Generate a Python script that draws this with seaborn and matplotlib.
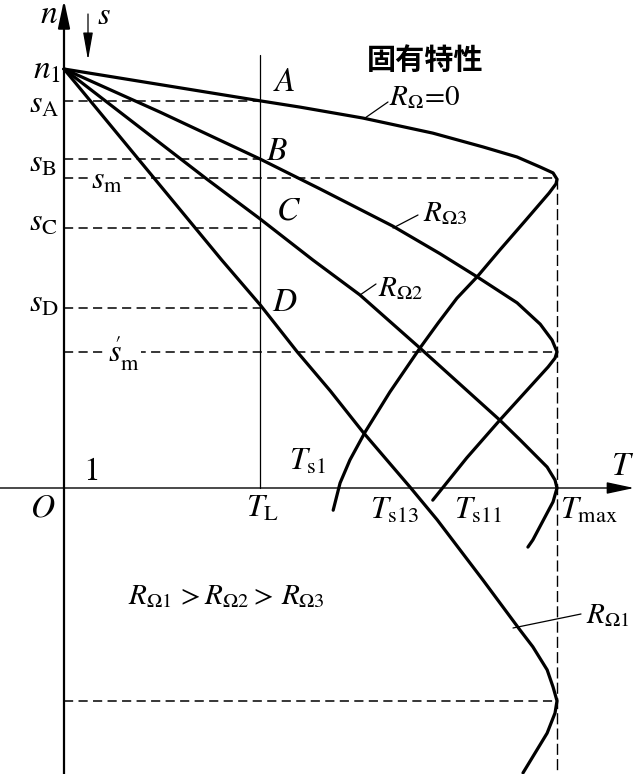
import numpy as np
import pandas as pd
import matplotlib
matplotlib.use("Agg")
import matplotlib.pyplot as plt
import seaborn as sns

# torque T (T_max = 1) and speed n (n1 = 1)
T_NAT = [0.0, 0.398, 0.479, 0.606, 0.748, 0.850, 0.919, 0.966, 0.992, 1.0,
         0.998, 0.984, 0.935, 0.884, 0.838, 0.797, 0.759, 0.722, 0.661, 0.611, 0.580, 0.560, 0.546]
N_NAT = [1.0, 0.924, 0.909, 0.883, 0.847, 0.814, 0.790, 0.766, 0.752, 0.737,
         0.726, 0.704, 0.637, 0.568, 0.504, 0.453, 0.394, 0.334, 0.229, 0.134, 0.067, 0.012, -0.053]

T_R3 = [0.0, 0.195, 0.398, 0.519, 0.667, 0.763, 0.838, 0.919, 0.966, 0.990, 1.0,
        0.996, 0.982, 0.884, 0.817, 0.748]
N_R3 = [1.0, 0.897, 0.785, 0.714, 0.625, 0.559, 0.504, 0.442, 0.391, 0.353, 0.325,
        0.310, 0.289, 0.162, 0.072, -0.029]

T_R2 = [0.0, 0.290, 0.398, 0.505, 0.600, 0.722, 0.803, 0.884, 0.925, 0.980, 0.996, 1.0,
        0.992, 0.951, 0.941]
N_R2 = [1.0, 0.737, 0.642, 0.544, 0.461, 0.334, 0.248, 0.162, 0.115, 0.050, 0.019, 0.0,
        -0.033, -0.124, -0.141]

T_R1 = [0.0, 0.181, 0.320, 0.398, 0.473, 0.540, 0.606, 0.702, 0.757, 0.850, 0.925,
        0.951, 0.980, 0.992, 1.0, 0.996, 0.980, 0.931]
N_R1 = [1.0, 0.742, 0.544, 0.437, 0.325, 0.232, 0.134, 0.002, -0.076, -0.220, -0.339,
        -0.379, -0.434, -0.475, -0.508, -0.537, -0.585, -0.680]

T_LOAD = 0.398
# slip levels marked on the n axis (dashed), and how far each dash line runs
S_LEVELS = [0.924, 0.785, 0.621, 0.430]          # s_A, s_B, s_C, s_D -> to T_L
SM_LEVELS = [0.740, 0.325, -0.508]               # s_m, s'_m, R_Omega1 max -> to T_max

curves = pd.concat([
    pd.DataFrame({"T": T_NAT, "n": N_NAT, "curve": "R0"}),
    pd.DataFrame({"T": T_R3, "n": N_R3, "curve": "R3"}),
    pd.DataFrame({"T": T_R2, "n": N_R2, "curve": "R2"}),
    pd.DataFrame({"T": T_R1, "n": N_R1, "curve": "R1"}),
])

sns.set_theme(style="white")
plt.rcParams["font.family"] = ["Liberation Serif", "Noto Sans CJK SC", "DejaVu Sans"]
plt.rcParams["mathtext.fontset"] = "stix"


def px(x, y):
    # helper for annotation placement given in picture pixels
    return (x - 64) / 493, (488 - y) / 419


fig = plt.figure(figsize=(6.35, 7.74), dpi=100)
ax = fig.add_axes([0, 0, 1, 1])
ax.set_xlim(px(0, 0)[0], px(635, 0)[0])
ax.set_ylim(px(0, 774)[1], px(0, 0)[1])
ax.axis("off")

dash = (0, (6, 3.5))
for lvl in S_LEVELS:
    ax.plot([0, T_LOAD], [lvl, lvl], color="black", lw=1.1, ls=dash)
for lvl in SM_LEVELS:
    ax.plot([0, 1.0], [lvl, lvl], color="black", lw=1.1, ls=dash)
ax.plot([1.0, 1.0], [SM_LEVELS[0], px(0, 774)[1]], color="black", lw=1.0, ls=(0, (8, 3)))
ax.plot([T_LOAD, T_LOAD], [0, px(0, 55)[1]], color="black", lw=0.9)

for name, grp in curves.groupby("curve", sort=False):
    sns.lineplot(data=grp, x="T", y="n", sort=False, estimator=None,
                 color="black", lw=2.3, ax=ax, legend=False)

# axes with arrows
ax.annotate("", xy=px(64, 0), xytext=px(64, 774),
            arrowprops=dict(arrowstyle="-|>,head_length=1.4,head_width=0.3",
                            lw=1.6, color="black", shrinkA=0, shrinkB=0), fontsize=12)
ax.annotate("", xy=px(634, 488), xytext=px(0, 488),
            arrowprops=dict(arrowstyle="-|>,head_length=1.4,head_width=0.3",
                            lw=1.0, color="black", shrinkA=0, shrinkB=0), fontsize=12)
ax.annotate("", xy=px(88, 60), xytext=px(88, 14),
            arrowprops=dict(arrowstyle="-|>,head_length=1.4,head_width=0.25",
                            lw=0.9, color="black", shrinkA=0, shrinkB=0), fontsize=12)

# leader lines to curve labels
for a, b in [((365, 118), (388, 102)), ((393, 228), (418, 215)),
             ((360, 295), (376, 284)), ((513, 628), (581, 614))]:
    ax.annotate("", xy=px(*b), xytext=px(*a),
                arrowprops=dict(arrowstyle="-", lw=0.9, color="black",
                                shrinkA=0, shrinkB=0))

labels = [
    ((49, 15), r"$n$", 24, None),
    ((104, 17), r"$s$", 23, None),
    ((47, 70), r"$n_1$", 24, None),
    ((44, 105), r"$s_{\mathrm{A}}$", 23, None),
    ((43, 164), r"$s_{\mathrm{B}}$", 23, None),
    ((107, 181), r"$s_{\mathrm{m}}$", 23, "white"),
    ((124, 353), r"$s_{\mathrm{m}}^{\!\!\!\prime}$", 23, "white"),
    ((43, 223), r"$s_{\mathrm{C}}$", 23, None),
    ((44, 304), r"$s_{\mathrm{D}}$", 23, None),
    ((284, 83), r"$A$", 24, None),
    ((277, 152), r"$B$", 24, None),
    ((288, 211), r"$C$", 24, None),
    ((285, 303), r"$D$", 24, None),
    ((91, 472), r"$1$", 24, None),
    ((43, 508), r"$O$", 24, None),
    ((263, 509), r"$T_{\mathrm{L}}$", 23, None),
    ((308, 462), r"$T_{\mathrm{s1}}$", 23, None),
    ((395, 511), r"$T_{\mathrm{s13}}$", 23, None),
    ((478, 511), r"$T_{\mathrm{s11}}$", 23, None),
    ((589, 511), r"$T_{\mathrm{max}}$", 23, None),
    ((623, 467), r"$T$", 24, None),
    ((425, 98), r"$R_{\Omega}\!=\!0$", 21, None),
    ((445, 214), r"$R_{\Omega 3}$", 21, None),
    ((401, 289), r"$R_{\Omega 2}$", 21, None),
    ((608, 616), r"$R_{\Omega 1}$", 21, None),
    ((226, 597), r"$R_{\Omega 1}\,>R_{\Omega 2}>\,R_{\Omega 3}$", 21, None),
]
for pos, txt, size, bg in labels:
    kw = {}
    if bg:
        kw["bbox"] = dict(facecolor=bg, edgecolor="none", pad=1.0)
    ax.text(*px(*pos), txt, fontsize=size, ha="center", va="center", color="black", **kw)

ax.text(*px(425, 60), "固有特性", fontsize=21, fontweight="bold", ha="center", va="center",
        family=["Noto Sans CJK SC", "DejaVu Sans"], color="black")

fig.savefig("out.png", dpi=100)
